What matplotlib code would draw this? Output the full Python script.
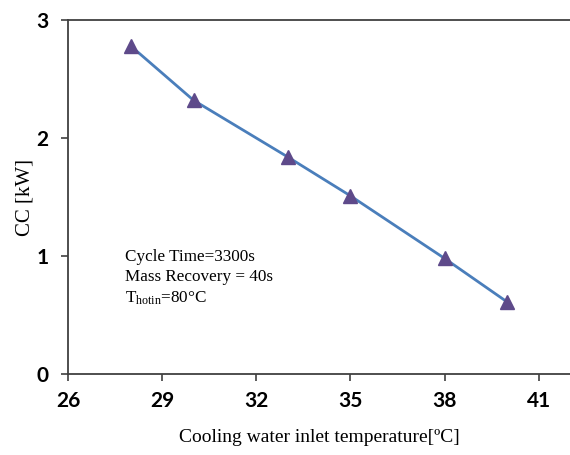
import matplotlib
matplotlib.use("Agg")
import matplotlib.pyplot as plt

# data
temp_c = [28, 30, 33, 35, 38, 40]
cc_kw = [2.78, 2.32, 1.84, 1.51, 0.98, 0.61]

x_ticks = [26, 29, 32, 35, 38, 41]
y_ticks = [0, 1, 2, 3]

fig = plt.figure(figsize=(5.7, 4.55), dpi=100)
ax = fig.add_axes([68 / 570, 81 / 455, 502 / 570, 354 / 455])

ax.plot(temp_c, cc_kw, color='#4A7EBB', linewidth=2, zorder=2)
ax.plot(temp_c, cc_kw, linestyle='none', marker='^', markersize=10,
        color='#5E4A8A', zorder=3)

ax.set_xlim(26, 42)
ax.set_ylim(0, 3)
ax.set_xticks(x_ticks)
ax.set_yticks(y_ticks)

ax.spines['right'].set_visible(False)
for side in ['left', 'bottom', 'top']:
    ax.spines[side].set_color('#404040')
    ax.spines[side].set_linewidth(1.3)

ax.tick_params(direction='out', length=5, width=1.2, color='#404040', pad=7)
for lab in ax.get_xticklabels() + ax.get_yticklabels():
    lab.set_fontfamily('Lato')
    lab.set_fontweight('bold')
    lab.set_fontsize(15)
ax.tick_params(axis='y', pad=9)

ax.set_xlabel('Cooling water inlet temperature[ºC]', family='Liberation Serif',
              fontsize=14, labelpad=13)
ax.set_ylabel('CC [kW]', family='Liberation Serif', fontsize=15, labelpad=1)

ax.text(0.114, 0.352, 'Cycle Time=3300s\nMass Recovery = 40s\n$\\mathregular{T_{hotin}}$=80°C',
        transform=ax.transAxes, family='Liberation Serif', fontsize=12.3,
        va='top', ha='left', linespacing=1.32)

fig.savefig('out.png', dpi=100)
